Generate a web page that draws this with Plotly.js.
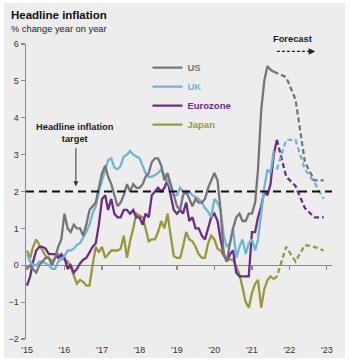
<!DOCTYPE html>
<html>
<head>
<meta charset="utf-8">
<script src="https://cdn.plot.ly/plotly-3.0.1.min.js"></script>
<style>
  html, body { margin: 0; padding: 0; background: #ffffff; }
  #chart { position: absolute; left: 4px; top: 3px; width: 341px; height: 355px; }
</style>
</head>
<body>
<div id="chart"></div>
<script>
// ---------- Data (monthly, Jan 2015 onwards) ----------
const startYear = 2015;
const usActual = [
  -0.1, 0.0, -0.1, -0.2, 0.0, 0.1, 0.2, 0.2, 0.0, 0.2, 0.5, 0.7,
  1.4, 1.0, 0.9, 1.1, 1.0, 1.0, 0.8, 1.1, 1.5, 1.6, 1.7, 2.1,
  2.5, 2.7, 2.4, 2.2, 1.9, 1.6, 1.7, 1.9, 2.2, 2.0, 2.2, 2.1,
  2.1, 2.2, 2.4, 2.5, 2.8, 2.9, 2.9, 2.7, 2.3, 2.5, 2.2, 1.9,
  1.6, 1.5, 1.9, 2.0, 1.8, 1.6, 1.8, 1.7, 1.7, 1.8, 2.1, 2.3,
  2.5, 2.3, 1.5, 0.3, 0.1, 0.6, 1.0, 1.3, 1.4, 1.2, 1.2, 1.4,
  1.4, 1.7, 2.6, 4.2, 5.0, 5.4, 5.3, 5.25
];
const ukActual = [
  0.3, 0.1, 0.0, 0.0, 0.1, 0.1, 0.05, 0.0, -0.1, -0.1, 0.1, 0.15,
  0.25, 0.4, 0.4, 0.45, 0.55, 0.6, 0.75, 0.9, 1.1, 1.4, 1.6, 2.0,
  2.3, 2.6, 2.85, 2.9, 2.65, 2.6, 2.7, 2.95, 3.0, 3.1, 3.0, 2.95,
  2.9, 2.7, 2.5, 2.4, 2.4, 2.45, 2.5, 2.6, 2.45, 2.3, 2.1, 1.9,
  1.9, 2.1, 2.0, 1.95, 2.0, 1.9, 1.85, 1.8, 1.7, 1.55, 1.45, 1.3,
  1.8, 1.7, 1.5, 0.8, 0.5, 0.6, 1.0, 0.2, 0.5, 0.7, 0.3, 0.6,
  0.7, 0.4, 0.7, 1.5, 2.1, 2.6, 2.5, 3.1
];
const ezActual = [
  -0.55, -0.3, 0.1, 0.4, 0.5, 0.5, 0.45, 0.3, 0.3, 0.3, 0.2, 0.3,
  0.2, -0.1, 0.0, -0.2, -0.1, 0.05, 0.15, 0.2, 0.35, 0.5, 0.6, 1.1,
  1.8, 1.9, 1.5, 1.8, 1.4, 1.3, 1.3, 1.5, 1.5, 1.4, 1.5, 1.3,
  1.3, 1.1, 1.4, 1.3, 1.9, 2.0, 2.1, 2.0, 2.1, 2.3, 1.9, 1.5,
  1.4, 1.5, 1.4, 1.7, 1.2, 1.3, 1.0, 1.0, 0.8, 0.7, 1.0, 1.3,
  1.4, 1.2, 0.7, 0.3, 0.1, 0.3, 0.4, -0.2, -0.3, -0.3, -0.3, -0.3,
  0.9, 0.9, 1.3, 1.6, 2.0, 1.9, 2.2, 3.0, 3.4
];
const jpActual = [
  0.4, 0.2, 0.5, 0.7, 0.55, 0.4, 0.25, 0.2, 0.1, 0.2, 0.3, 0.2,
  0.15, 0.1, -0.05, -0.3, -0.5, -0.4, -0.45, -0.55, -0.55, 0.0, 0.5, 0.35,
  0.5, 0.2, 0.3, 0.4, 0.4, 0.4, 0.45, 0.8, 0.2, 0.65, 1.0, 1.4,
  1.35, 1.3, 1.0, 0.65, 0.7, 0.7, 0.9, 1.2, 1.0, 1.4, 0.8, 0.25,
  0.2, 0.2, 0.5, 0.9, 0.7, 0.65, 0.5, 0.3, 0.2, 0.2, 0.6, 0.8,
  0.7, 0.45, 0.4, 0.25, 0.2, 0.15, 0.15, -0.05, -0.25, -0.6, -1.0, -1.15,
  -0.75, -0.5, -0.4, -1.15, -0.65, -0.4, -0.3, -0.38
];

// Forecasts (dashed)
const usFcDates = ['2021-08-01', '2021-12-01', '2022-03-01', '2022-06-01', '2022-09-01', '2022-12-01'];
const usForecast = [5.25, 5.1, 4.5, 2.8, 2.3, 2.3];
const ukFcDates = ['2021-09-01', '2021-12-01', '2022-03-01', '2022-06-01', '2022-09-01', '2022-12-01'];
const ukForecast = [2.6, 3.4, 3.4, 2.6, 2.25, 1.8];
const ezFcDates = ['2021-09-01', '2021-12-01', '2022-03-01', '2022-06-01', '2022-09-01', '2022-12-01'];
const ezForecast = [3.4, 2.4, 2.15, 1.55, 1.3, 1.3];
const jpFcDates = ['2021-08-01', '2021-09-01', '2021-12-01', '2022-03-01', '2022-06-01', '2022-09-01', '2022-12-01'];
const jpForecast = [-0.38, -0.3, 0.5, 0.1, 0.55, 0.5, 0.4];

const inflationTarget = 2;
const yearTickVals = ['2015-01-01','2016-01-01','2017-01-01','2018-01-01','2019-01-01','2020-01-01','2021-01-01','2022-01-01','2023-01-01'];
const yearTickText = ["'15","'16","'17","'18","'19","'20","'21","'22","'23"];
const seriesNames = ['US', 'UK', 'Eurozone', 'Japan'];
const seriesColors = ['#767676', '#6db6d9', '#6b2c8c', '#99993b'];

// ---------- Build ----------
function monthDates(n) {
  const out = [];
  for (let i = 0; i < n; i++) {
    const y = startYear + Math.floor(i / 12);
    const m = (i % 12) + 1;
    out.push(y + '-' + (m < 10 ? '0' + m : m) + '-01');
  }
  return out;
}
const actuals = [usActual, ukActual, ezActual, jpActual];
const fcDates = [usFcDates, ukFcDates, ezFcDates, jpFcDates];
const forecasts = [usForecast, ukForecast, ezForecast, jpForecast];

const traces = [];
const order = [3, 2, 1, 0];
order.forEach(i => {
  traces.push({
    type: 'scatter', mode: 'lines',
    x: fcDates[i], y: forecasts[i],
    line: { color: seriesColors[i], width: 2.3, dash: '5px,3px' },
    showlegend: false, hoverinfo: 'skip'
  });
});
order.forEach(i => {
  traces.push({
    type: 'scatter', mode: 'lines',
    x: monthDates(actuals[i].length), y: actuals[i],
    name: '<b><span style="color:' + seriesColors[i] + '">' + seriesNames[i] + '</span></b>',
    line: { color: seriesColors[i], width: 2.3 },
    legendrank: i + 1,
    hoverinfo: 'skip'
  });
});
traces.push({ type: 'scatter', mode: 'lines', x: [], y: [], xaxis: 'x2', showlegend: false });

const font = 'Liberation Sans, Arial, sans-serif';
const layout = {
  width: 341, height: 355,
  paper_bgcolor: '#ededed', plot_bgcolor: 'rgba(0,0,0,0)',
  margin: { l: 22, r: 13, t: 41, b: 19 },
  font: { family: font, color: '#333333', size: 9 },
  showlegend: true,
  legend: {
    x: 0.397, y: 0.969, xanchor: 'left', yanchor: 'top',
    bgcolor: 'rgba(0,0,0,0)', font: { family: font, size: 9.5 },
    itemwidth: 30, traceorder: 'normal'
  },
  xaxis: {
    type: 'date', range: ['2014-12-22', '2023-02-20'],
    tickmode: 'array', tickvals: yearTickVals, ticktext: yearTickText,
    showgrid: false, zeroline: false, showline: false, ticks: '',
    ticklabelstandoff: 4,
    tickfont: { family: font, size: 9, color: '#333' },
    fixedrange: true
  },
  xaxis2: {
    type: 'date', range: ['2014-12-22', '2023-02-20'],
    overlaying: 'x', anchor: 'free', position: 0.25, side: 'bottom',
    tickmode: 'array', tickvals: yearTickVals,
    showticklabels: false, ticks: 'outside', ticklen: 4, tickwidth: 1.2, tickcolor: '#8a8a8a',
    showgrid: false, zeroline: false, showline: false
  },
  yaxis: {
    range: [-2, 6], dtick: 1, tick0: 0,
    showgrid: false, zeroline: true, zerolinecolor: '#8a8a8a', zerolinewidth: 1.5,
    showline: true, linecolor: '#8a8a8a', linewidth: 1.5,
    ticks: 'outside', ticklen: 4, tickwidth: 1.2, tickcolor: '#8a8a8a',
    tickfont: { family: font, size: 9, color: '#333' },
    fixedrange: true
  },
  shapes: [
    { type: 'line', xref: 'paper', x0: 0, x1: 1, yref: 'y', y0: inflationTarget, y1: inflationTarget,
      line: { color: '#111', width: 2, dash: '8px,5px' }, layer: 'above' },
    { type: 'line', xref: 'paper', x0: 0.82, x1: 0.93, yref: 'paper', y0: 0.975, y1: 0.975,
      line: { color: '#222', width: 1.3, dash: '3px,2px' } }
  ],
  annotations: [
    { xref: 'paper', yref: 'paper', x: -0.055, y: 1.098, xanchor: 'left', yanchor: 'middle',
      text: '<b>Headline inflation</b>', showarrow: false, font: { family: font, size: 11.5, color: '#111' } },
    { xref: 'paper', yref: 'paper', x: -0.055, y: 1.051, xanchor: 'left', yanchor: 'middle',
      text: '% change year on year', showarrow: false, font: { family: font, size: 9.3, color: '#222' } },
    { xref: 'paper', yref: 'y', x: 0.16, y: 3.58, xanchor: 'center', yanchor: 'middle',
      text: '<b>Headline inflation<br>target</b>', showarrow: false, align: 'center',
      font: { family: font, size: 9.3, color: '#222' } },
    { xref: 'paper', yref: 'y', x: 0.163, y: 2.14, ax: 0, ay: -40, text: '', showarrow: true,
      arrowhead: 2, arrowsize: 1, arrowwidth: 1, arrowcolor: '#333' },
    { xref: 'paper', yref: 'paper', x: 0.872, y: 1.016, xanchor: 'center', yanchor: 'middle',
      text: '<b>Forecast</b>', showarrow: false, font: { family: font, size: 9.3, color: '#222' } },
    { xref: 'paper', yref: 'paper', x: 0.945, y: 0.975, ax: -6, ay: 0, text: '', showarrow: true,
      arrowhead: 2, arrowsize: 1, arrowwidth: 1.3, arrowcolor: '#222' }
  ]
};

Plotly.newPlot('chart', traces, layout, { displayModeBar: false, staticPlot: true });
</script>
</body>
</html>
